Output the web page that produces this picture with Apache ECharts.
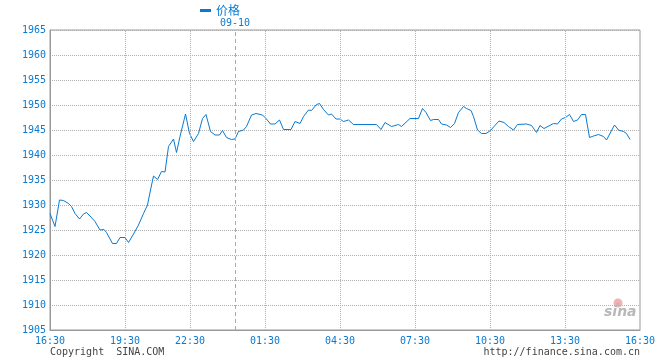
<!DOCTYPE html>
<html>
<head>
<meta charset="utf-8">
<script src="https://cdn.jsdelivr.net/npm/echarts@6/dist/echarts.min.js"></script>
<style>
html,body{margin:0;padding:0;background:#fff;}
#c{width:660px;height:360px;}
</style>
</head>
<body>
<div id="c"></div>
<script>
// x positions are 12-minute trading slots from 16:30 (session gap between 19:30 and 22:30)
var tickSlots = [0, 15, 28, 43, 58, 73, 88, 103, 118];
var tickLabels = ['16:30', '19:30', '22:30', '01:30', '04:30', '07:30', '10:30', '13:30', '16:30'];
var dateSlot = 37;
var dateLabel = '09-10';
var seriesName = '价格';

var slots = [0, 1.0, 1.9, 2.7, 3.7, 4.3, 5.0, 5.9, 6.7, 7.3, 8.0, 9.0, 10.0, 10.8, 11.3, 12.5, 13.3, 14.0, 15.0, 15.7,
  16.7, 17.7, 18.7, 19.5, 20.1, 20.7, 21.5, 22.3, 23.0, 23.7, 24.7, 25.3, 26.0, 27.1, 27.9, 28.7, 29.7, 30.5, 31.2, 32.1,
  33.0, 33.9, 34.5, 35.3, 36.3, 37.0, 37.7, 38.7, 39.3, 40.3, 41.2, 42.5, 43.2, 44.1, 45.0, 45.9, 46.7, 48.2, 49.0, 50.0,
  50.7, 51.7, 52.3, 53.3, 53.9, 54.7, 55.7, 56.3, 57.2, 58.0, 58.7, 59.7, 60.7, 65.3, 66.2, 67.0, 68.3, 69.7, 70.3, 72.0,
  73.7, 74.5, 75.2, 76.1, 76.7, 77.7, 78.3, 79.3, 80.1, 80.9, 81.7, 82.7, 83.3, 84.2, 84.7, 85.5, 86.3, 87.2, 88.1, 88.8,
  89.8, 90.8, 91.7, 92.7, 93.5, 95.3, 96.3, 97.3, 98.0, 98.8, 100.7, 101.5, 102.3, 103.1, 103.9, 104.7, 105.5, 106.3, 107.1, 107.9,
  108.7, 109.7, 110.7, 111.3, 112.9, 113.7, 114.7, 115.3, 116.0];
var prices = [1928.3, 1925.7, 1931.0, 1930.9, 1930.3, 1929.7, 1928.3, 1927.2, 1928.2, 1928.5, 1927.8, 1926.7, 1925.0, 1925.1, 1924.5, 1922.3, 1922.3, 1923.5, 1923.5, 1922.5,
  1924.2, 1926.0, 1928.3, 1930.0, 1933.0, 1935.8, 1935.1, 1936.7, 1936.6, 1941.7, 1943.2, 1940.5, 1943.7, 1948.2, 1944.3, 1942.7, 1944.3, 1947.3, 1948.1, 1944.7,
  1944.0, 1944.0, 1944.9, 1943.5, 1943.1, 1943.2, 1944.7, 1945.0, 1945.7, 1948.0, 1948.3, 1948.0, 1947.3, 1946.2, 1946.2, 1947.0, 1945.1, 1945.1, 1946.7, 1946.3,
  1947.7, 1949.0, 1948.9, 1950.1, 1950.3, 1949.1, 1948.0, 1948.2, 1947.2, 1947.2, 1946.7, 1947.0, 1946.1, 1946.1, 1945.1, 1946.5, 1945.7, 1946.1, 1945.7, 1947.3,
  1947.3, 1949.3, 1948.5, 1946.9, 1947.1, 1947.1, 1946.2, 1946.0, 1945.5, 1946.3, 1948.5, 1949.7, 1949.3, 1948.9, 1947.7, 1945.0, 1944.3, 1944.3, 1944.9, 1945.7,
  1946.8, 1946.5, 1945.7, 1945.0, 1946.1, 1946.2, 1945.9, 1944.5, 1945.9, 1945.3, 1946.3, 1946.2, 1947.2, 1947.5, 1948.1, 1946.7, 1947.0, 1948.1, 1948.1, 1943.5,
  1943.8, 1944.1, 1943.7, 1943.0, 1946.0, 1945.0, 1944.7, 1944.3, 1943.1];

var blue = '#0a7ad1';
var mono = 'DejaVu Sans Mono';

var lineData = slots.map(function (s, i) { return [s, prices[i]]; });

var gridMarks = tickSlots.slice(1, -1).map(function (s) {
  return { xAxis: s, lineStyle: { type: [1, 1], color: '#b0b0b0', width: 1 }, label: { show: false } };
});
gridMarks.push({
  xAxis: dateSlot,
  lineStyle: { type: [4, 3], color: '#aaaaaa', width: 1 },
  label: { show: true, position: 'end', formatter: dateLabel, color: blue, fontFamily: mono, fontSize: 10, distance: 2 }
});

var chart = echarts.init(document.getElementById('c'), null, { renderer: 'canvas' });
chart.setOption({
  animation: false,
  backgroundColor: '#ffffff',
  grid: { left: 50, right: 20, top: 30, bottom: 30, show: true, borderColor: '#999999', borderWidth: 1, backgroundColor: 'transparent' },
  legend: {
    data: [seriesName], left: 200, top: 4, padding: 0, icon: 'rect', itemWidth: 11, itemHeight: 3, itemGap: 5,
    textStyle: { color: blue, fontSize: 12, fontFamily: 'Noto Sans CJK SC', lineHeight: 13 }
  },
  xAxis: {
    type: 'value', min: 0, max: 118,
    axisLine: { show: true, lineStyle: { color: '#999999', width: 1 } },
    axisTick: { show: false },
    splitLine: { show: false },
    axisLabel: {
      customValues: tickSlots,
      formatter: function (v) { var i = tickSlots.indexOf(v); return i >= 0 ? tickLabels[i] : ''; },
      color: blue, fontFamily: mono, fontSize: 10, margin: 6
    }
  },
  yAxis: {
    type: 'value', min: 1905, max: 1965, interval: 5,
    axisLine: { show: true, lineStyle: { color: '#999999', width: 1 } },
    axisTick: { show: false },
    splitLine: { show: true, lineStyle: { type: [1, 1], color: '#b0b0b0', width: 1 } },
    axisLabel: { color: blue, fontFamily: mono, fontSize: 10, margin: 4, formatter: function (v) { return String(v); } }
  },
  series: [{
    name: seriesName, type: 'line', data: lineData, showSymbol: false, symbol: 'none',
    lineStyle: { color: blue, width: 1 }, itemStyle: { color: blue },
    markLine: { silent: true, symbol: 'none', animation: false, data: gridMarks }
  }],
  graphic: [
    { type: 'text', left: 50, top: 347, style: { text: 'Copyright  SINA.COM', fill: '#444444', font: '10px "DejaVu Sans Mono"' } },
    { type: 'text', right: 20, top: 347, style: { text: 'http://finance.sina.com.cn', fill: '#444444', font: '10px "DejaVu Sans Mono"' } },
    { type: 'circle', shape: { cx: 618, cy: 303, r: 4.5 }, style: { fill: '#f6b0b0' } },
    { type: 'circle', shape: { cx: 618, cy: 304, r: 1.8 }, style: { fill: '#bbbbbb' } },
    { type: 'text', left: 604, top: 305, style: { text: 'sina', fill: '#b8b8b8', font: 'italic bold 14px "DejaVu Sans"' } }
  ]
});
</script>
</body>
</html>
